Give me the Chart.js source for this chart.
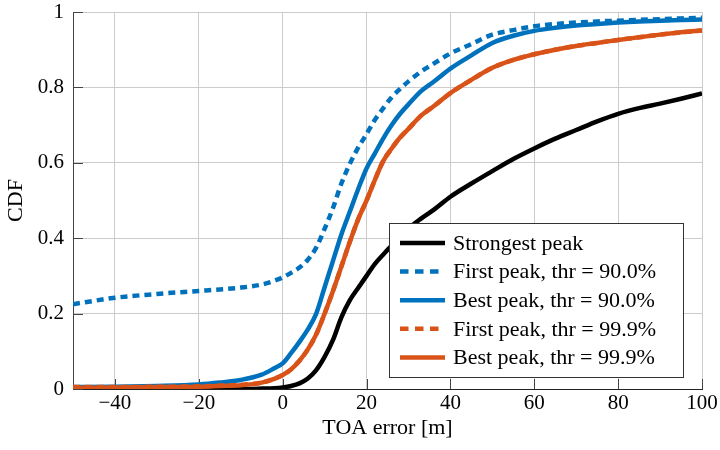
<!DOCTYPE html>
<html>
<head>
<meta charset="utf-8">
<script src="https://cdn.jsdelivr.net/npm/chart.js@4/dist/chart.umd.min.js"></script>
<style>
  html, body { margin: 0; padding: 0; background: #ffffff; }
  #wrap { width: 720px; height: 450px; }
</style>
</head>
<body>
<div id="wrap"><canvas id="c" width="720" height="450"></canvas></div>
<script>
// ---- data ----
const xValues = [-50, -40, -30, -20, -15, -10, -5, -2, 0, 2, 4, 6, 8, 10, 12, 14, 16, 18, 20, 22, 24, 26, 28, 30, 33, 36, 40, 45, 50, 55, 60, 65, 70, 75, 80, 85, 90, 95, 100];

const strongestPeak = [0, 0, 0, 0, 0, 0, 0.001, 0.002, 0.004, 0.008, 0.015, 0.028, 0.05, 0.085, 0.13, 0.19, 0.235, 0.268, 0.30, 0.332, 0.357, 0.38, 0.40, 0.425, 0.452, 0.475, 0.51, 0.545, 0.578, 0.61, 0.638, 0.664, 0.687, 0.71, 0.73, 0.745, 0.757, 0.77, 0.784];

const firstPeak900 = [0.225, 0.242, 0.252, 0.26, 0.264, 0.269, 0.277, 0.287, 0.296, 0.308, 0.322, 0.343, 0.375, 0.425, 0.48, 0.545, 0.597, 0.64, 0.676, 0.714, 0.745, 0.774, 0.796, 0.816, 0.842, 0.863, 0.89, 0.915, 0.94, 0.952, 0.962, 0.968, 0.972, 0.975, 0.977, 0.979, 0.981, 0.983, 0.985];

const bestPeak900 = [0.005, 0.006, 0.008, 0.012, 0.017, 0.024, 0.038, 0.055, 0.068, 0.095, 0.125, 0.158, 0.2, 0.27, 0.34, 0.41, 0.47, 0.53, 0.585, 0.625, 0.665, 0.70, 0.73, 0.755, 0.79, 0.815, 0.85, 0.885, 0.918, 0.937, 0.95, 0.958, 0.964, 0.968, 0.972, 0.975, 0.977, 0.979, 0.98];

const firstPeak999 = [0.005, 0.005, 0.006, 0.007, 0.009, 0.011, 0.017, 0.027, 0.037, 0.052, 0.075, 0.105, 0.145, 0.2, 0.26, 0.325, 0.39, 0.45, 0.5, 0.555, 0.605, 0.638, 0.667, 0.69, 0.725, 0.75, 0.785, 0.82, 0.852, 0.873, 0.888, 0.9, 0.91, 0.918, 0.926, 0.933, 0.94, 0.946, 0.951];

const bestPeak999 = [0.003, 0.004, 0.005, 0.006, 0.008, 0.01, 0.017, 0.027, 0.037, 0.052, 0.075, 0.105, 0.145, 0.2, 0.26, 0.325, 0.39, 0.45, 0.5, 0.555, 0.605, 0.638, 0.667, 0.69, 0.725, 0.75, 0.785, 0.82, 0.852, 0.873, 0.888, 0.9, 0.91, 0.918, 0.926, 0.933, 0.94, 0.946, 0.951];

const seriesLabels = ['Strongest peak', 'First peak, thr = 90.0%', 'Best peak, thr = 90.0%', 'First peak, thr = 99.9%', 'Best peak, thr = 99.9%'];
const xTicks = [-40, -20, 0, 20, 40, 60, 80, 100];
const yTicks = [0, 0.2, 0.4, 0.6, 0.8, 1];
const xTitle = 'TOA error [m]';
const yTitle = 'CDF';

// ---- styling ----
const BLUE = '#0072BD';
const RED = '#D95319';
const SERIF = "'Liberation Serif', 'Times New Roman', serif";

Chart.defaults.font.family = SERIF;
Chart.defaults.font.size = 21;
Chart.defaults.color = '#000000';

function pts(arr) { return xValues.map((x, i) => ({ x: x, y: arr[i] })); }

const styleList = [
  { color: '#000000', dash: [] },
  { color: BLUE, dash: [7, 5] },
  { color: BLUE, dash: [] },
  { color: RED, dash: [7, 5] },
  { color: RED, dash: [] }
];
const seriesData = [strongestPeak, firstPeak900, bestPeak900, firstPeak999, bestPeak999];

const datasets = seriesData.map((arr, i) => ({
  label: seriesLabels[i],
  data: pts(arr),
  borderColor: styleList[i].color,
  backgroundColor: styleList[i].color,
  borderDash: styleList[i].dash,
  borderWidth: 4.5,
  pointRadius: 0,
  fill: false,
  cubicInterpolationMode: 'monotone',
  clip: 0,
  order: seriesData.length - i
}));

// inward tick marks on left and bottom axes
const innerTicks = {
  id: 'innerTicks',
  beforeDatasetsDraw(chart) {
    const { ctx, chartArea: ca, scales } = chart;
    ctx.save();
    ctx.strokeStyle = '#444444';
    ctx.lineWidth = 1;
    ctx.beginPath();
    yTicks.forEach(v => {
      const y = Math.round(scales.y.getPixelForValue(v)) + 0.5;
      ctx.moveTo(ca.left, y); ctx.lineTo(ca.left + 10, y);
    });
    xTicks.forEach(v => {
      const x = Math.round(scales.x.getPixelForValue(v)) + 0.5;
      ctx.moveTo(x, ca.bottom); ctx.lineTo(x, ca.bottom - 10);
    });
    ctx.stroke();
    ctx.restore();
  }
};

// boxed legend inside the plot, bottom right
const boxLegend = {
  id: 'boxLegend',
  afterDraw(chart) {
    const { ctx, chartArea: ca } = chart;
    const ds = chart.data.datasets;
    const rowH = 28.6, padY = 20, boxW = 294;
    const boxH = Math.round(padY * 2 + rowH * (ds.length - 1));
    const right = Math.round(ca.right - 19), bottom = Math.round(ca.bottom - 12);
    const left = right - boxW, top = bottom - boxH;
    ctx.save();
    ctx.fillStyle = '#ffffff';
    ctx.fillRect(left, top, boxW, boxH);
    ctx.strokeStyle = '#333333';
    ctx.lineWidth = 1;
    ctx.strokeRect(left + 0.5, top + 0.5, boxW, boxH);
    ctx.font = '22px ' + SERIF;
    ctx.textBaseline = 'middle';
    ctx.textAlign = 'left';
    ds.forEach((d, i) => {
      const y = top + padY + i * rowH;
      ctx.beginPath();
      ctx.strokeStyle = d.borderColor;
      ctx.lineWidth = 4.5;
      ctx.lineCap = 'butt';
      ctx.setLineDash(d.borderDash && d.borderDash.length ? [8.5, 6.5] : []);
      ctx.moveTo(left + 11, y);
      ctx.lineTo(left + 56, y);
      ctx.stroke();
      ctx.setLineDash([]);
      ctx.fillStyle = '#000000';
      ctx.fillText(d.label, left + 64, y + 1);
    });
    ctx.restore();
  }
};

new Chart(document.getElementById('c'), {
  type: 'line',
  data: { datasets: datasets },
  options: {
    responsive: false,
    animation: false,
    devicePixelRatio: 1,
    layout: { padding: { top: 12, right: 18, left: 0, bottom: 0 } },
    plugins: { legend: { display: false }, tooltip: { enabled: false } },
    scales: {
      x: {
        type: 'linear',
        min: -50,
        max: 100,
        afterBuildTicks: (s) => { s.ticks = xTicks.map(v => ({ value: v })); },
        afterFit: (s) => { s.height = 61; s.paddingLeft = 0; s.paddingRight = 0; },
        ticks: {
          padding: 2,
          font: { size: 21 },
          callback: (v) => String(v).replace('-', '\u2212')
        },
        grid: { color: '#cccccc', lineWidth: 1, drawTicks: false },
        border: { color: '#222222', width: 1 },
        title: {
          display: true,
          text: xTitle,
          font: { size: 22 },
          padding: { top: 0, bottom: 9 }
        }
      },
      y: {
        type: 'linear',
        min: 0,
        max: 1,
        afterBuildTicks: (s) => { s.ticks = yTicks.map(v => ({ value: v })); },
        afterFit: (s) => { s.width = 73; s.paddingTop = 0; s.paddingBottom = 0; },
        ticks: {
          padding: 9,
          font: { size: 21 },
          callback: (v) => String(Math.round(v * 10) / 10)
        },
        grid: { color: '#cccccc', lineWidth: 1, drawTicks: false },
        border: { color: '#444444', width: 1 },
        title: {
          display: true,
          text: yTitle,
          font: { size: 22 },
          padding: { top: 3, bottom: 0 }
        }
      }
    }
  },
  plugins: [innerTicks, boxLegend]
});
</script>
</body>
</html>
